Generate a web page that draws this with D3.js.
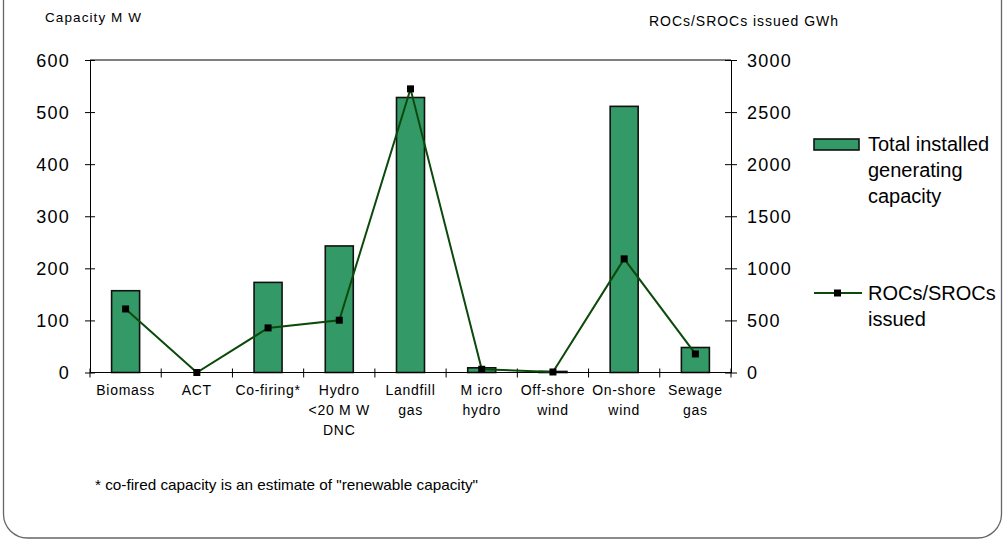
<!DOCTYPE html>
<html>
<head>
<meta charset="utf-8">
<script src="https://cdn.jsdelivr.net/npm/d3@7"></script>
<style>
  html, body { margin: 0; padding: 0; background: #fff; }
  svg { display: block; font-family: Arial, "Liberation Sans", sans-serif; }
</style>
</head>
<body>
<svg id="chart" width="1005" height="541"></svg>
<script>
// Renewable technologies, capacity and certificates issued
const categories = [
  ["Biomass"], ["ACT"], ["Co-firing*"], ["Hydro", "<20 M W", "DNC"], ["Landfill", "gas"],
  ["M icro", "hydro"], ["Off-shore", "wind"], ["On-shore", "wind"], ["Sewage", "gas"]
];
const capacityMW = [157, 0, 173, 243, 528, 9, 2, 511, 48];
const rocsGWh = [610, 0, 428, 502, 2723, 31, 5, 1091, 178];
const leftTicks = [0, 100, 200, 300, 400, 500, 600];
const rightTicks = [0, 500, 1000, 1500, 2000, 2500, 3000];

const svg = d3.select("#chart");
const plot = { left: 90, right: 731, top: 60, bottom: 372.5 };

// outer rounded frame
svg.append("rect")
  .attr("x", 3.5).attr("y", -30).attr("width", 998).attr("height", 568)
  .attr("rx", 24).attr("ry", 24)
  .attr("fill", "none").attr("stroke", "#666").attr("stroke-width", 1.3);

const x = d3.scaleBand()
  .domain(categories.map((c, i) => i))
  .range([plot.left, plot.right])
  .paddingInner(0).paddingOuter(0);
const yL = d3.scaleLinear().domain([0, 600]).range([plot.bottom, plot.top]);
const yR = d3.scaleLinear().domain([0, 3000]).range([plot.bottom, plot.top]);

// top border of plot area
svg.append("line")
  .attr("x1", plot.left).attr("x2", plot.right)
  .attr("y1", plot.top).attr("y2", plot.top)
  .attr("stroke", "#000").attr("stroke-width", 1);

// bars
const bw = 28;
svg.append("g").selectAll("rect")
  .data(capacityMW)
  .join("rect")
  .attr("x", (d, i) => x(i) + x.bandwidth() / 2 - bw / 2)
  .attr("y", d => yL(d))
  .attr("width", bw)
  .attr("height", d => yL(0) - yL(d))
  .attr("fill", "#339966")
  .attr("stroke", "#111")
  .attr("stroke-width", 1.6);

// left axis
const axL = svg.append("g")
  .attr("transform", `translate(${plot.left},0)`)
  .call(d3.axisLeft(yL).tickValues(leftTicks).tickFormat(d3.format("d"))
    .tickSize(5).tickSizeOuter(0).tickPadding(15));
axL.selectAll(".tick line").attr("x1", 5).attr("x2", -5);
axL.selectAll("text").attr("font-size", 18).attr("letter-spacing", 1.2)
  .attr("fill", "#000").attr("dy", "0.36em");
axL.select(".domain").attr("stroke", "#000");

// right axis
const axR = svg.append("g")
  .attr("transform", `translate(${plot.right},0)`)
  .call(d3.axisRight(yR).tickValues(rightTicks).tickFormat(d3.format("d"))
    .tickSize(6).tickSizeOuter(0).tickPadding(10));
axR.selectAll(".tick line").attr("x1", -6).attr("x2", 6);
axR.selectAll("text").attr("font-size", 18).attr("letter-spacing", 1.2)
  .attr("fill", "#000").attr("dy", "0.36em");
axR.select(".domain").attr("stroke", "#000");

// category axis
const tickPos = d3.range(categories.length + 1).map(i => plot.left + i * x.bandwidth());
svg.append("line")
  .attr("x1", plot.left).attr("x2", plot.right)
  .attr("y1", plot.bottom).attr("y2", plot.bottom)
  .attr("stroke", "#000");
svg.append("g").selectAll("line")
  .data(tickPos)
  .join("line")
  .attr("x1", d => d).attr("x2", d => d)
  .attr("y1", plot.bottom - 4).attr("y2", plot.bottom + 5)
  .attr("stroke", "#000");
const catG = svg.append("g");
categories.forEach((lines, i) => {
  const cx = x(i) + x.bandwidth() / 2;
  const t = catG.append("text")
    .attr("y", 395)
    .attr("text-anchor", "middle")
    .attr("font-size", 14)
    .attr("letter-spacing", 0.7)
    .attr("fill", "#000");
  lines.forEach((s, j) => {
    t.append("tspan").attr("x", cx).attr("dy", j === 0 ? 0 : 20).text(s);
  });
});

// certificates line
const line = d3.line()
  .x((d, i) => x(i) + x.bandwidth() / 2)
  .y(d => yR(d));
svg.append("path")
  .datum(rocsGWh)
  .attr("d", line)
  .attr("fill", "none")
  .attr("stroke", "#0b4a0b")
  .attr("stroke-width", 2);
svg.append("g").selectAll("rect")
  .data(rocsGWh)
  .join("rect")
  .attr("x", (d, i) => x(i) + x.bandwidth() / 2 - 3.5)
  .attr("y", d => yR(d) - 3.5)
  .attr("width", 7).attr("height", 7)
  .attr("fill", "#000");

// axis titles
svg.append("text").attr("x", 45).attr("y", 22).attr("font-size", 13.5)
  .attr("textLength", 96).attr("lengthAdjust", "spacing").text("Capacity M W");
svg.append("text").attr("x", 649).attr("y", 26).attr("font-size", 14)
  .attr("textLength", 189).attr("lengthAdjust", "spacing").text("ROCs/SROCs issued GWh");

// legend
const lg = svg.append("g");
lg.append("rect")
  .attr("x", 814).attr("y", 139).attr("width", 45).attr("height", 11)
  .attr("fill", "#339966").attr("stroke", "#111").attr("stroke-width", 1.6);
const lt1 = lg.append("text").attr("font-size", 20).attr("fill", "#000");
["Total installed", "generating", "capacity"].forEach((s, j) => {
  lt1.append("tspan").attr("x", 868).attr("y", 151 + j * 26).text(s);
});
lg.append("line")
  .attr("x1", 814).attr("x2", 862).attr("y1", 293).attr("y2", 293)
  .attr("stroke", "#0b4a0b").attr("stroke-width", 2);
lg.append("rect")
  .attr("x", 834).attr("y", 289.5).attr("width", 7).attr("height", 7).attr("fill", "#000");
const lt2 = lg.append("text").attr("font-size", 20).attr("fill", "#000");
["ROCs/SROCs", "issued"].forEach((s, j) => {
  lt2.append("tspan").attr("x", 868).attr("y", 300 + j * 26).text(s);
});

// footnote
svg.append("text")
  .attr("x", 95).attr("y", 490)
  .attr("font-family", "'Liberation Sans Narrow', 'Arial Narrow', Arial, sans-serif")
  .attr("font-size", 15)
  .attr("textLength", 383).attr("lengthAdjust", "spacingAndGlyphs")
  .text("* co-fired capacity is an estimate of \"renewable capacity\"");
</script>
</body>
</html>
